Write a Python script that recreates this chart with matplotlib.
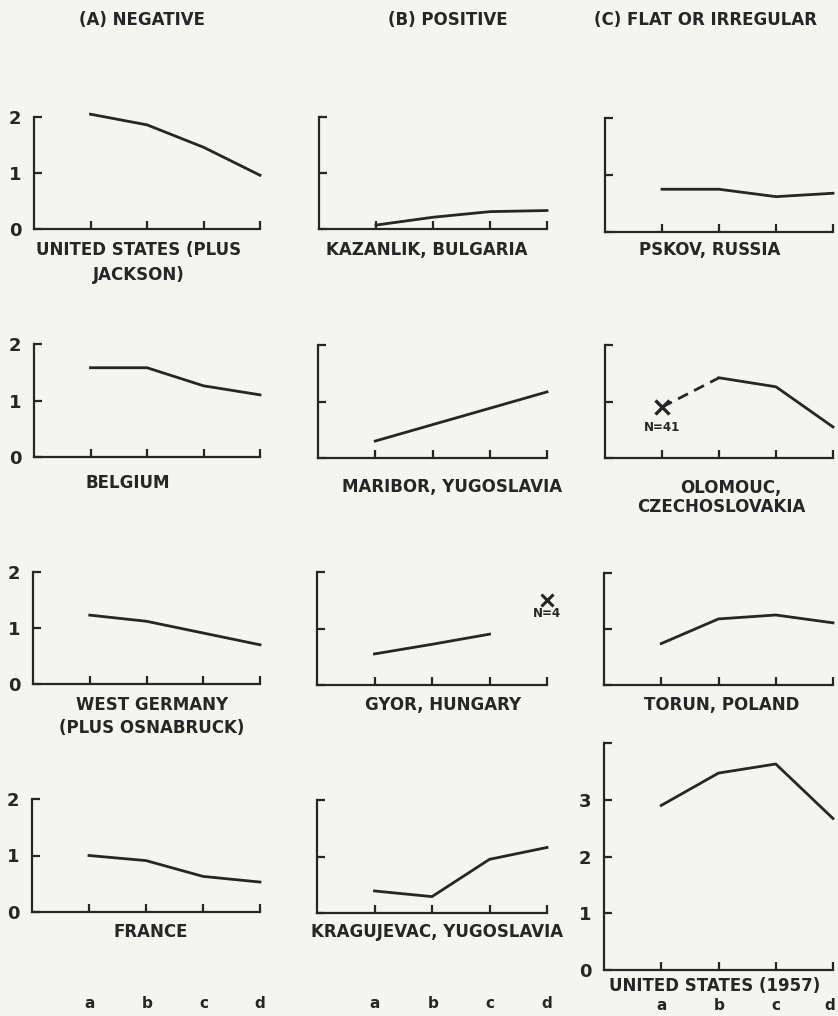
import numpy as np
import matplotlib.pyplot as plt

W, H = 838, 1016

# categories along the x axis
cats = ["a", "b", "c", "d"]
xpos = [1, 2, 3, 4]

# values
us_plus_jackson = [2.05, 1.86, 1.46, 0.96]
kazanlik = [0.07, 0.21, 0.31, 0.33]
pskov = [0.75, 0.75, 0.62, 0.68]
belgium = [1.58, 1.58, 1.26, 1.10]
maribor = [0.30, 0.59, 0.88, 1.17]
olomouc = [0.90, 1.42, 1.26, 0.55]
west_germany = [1.23, 1.12, 0.91, 0.70]
gyor = [0.55, 0.72, 0.90, 1.50]
torun = [0.74, 1.18, 1.25, 1.11]
france = [1.00, 0.91, 0.63, 0.53]
kragujevac = [0.39, 0.29, 0.95, 1.16]
us_1957 = [2.90, 3.47, 3.63, 2.67]

ink = "#262626"
plt.rcParams["font.family"] = ["DejaVu Sans"]
plt.rcParams["font.weight"] = "bold"

fig = plt.figure(figsize=(W / 100, H / 100), dpi=100)
fig.patch.set_facecolor("#f4f4f1")


def panel(x0, xd, y0, ytop, ymax, labels):
    # x0/xd: pixel of y-axis and of tick d; y0/ytop: pixel of 0 and of ymax
    ax = fig.add_axes([x0 / W, 1 - y0 / H, (xd - x0) / W, (y0 - ytop) / H])
    ax.set_facecolor("none")
    ax.set_xlim(0, 4)
    ax.set_ylim(0, ymax)
    for s in ["top", "right"]:
        ax.spines[s].set_visible(False)
    for s in ["left", "bottom"]:
        ax.spines[s].set_linewidth(1.6)
        ax.spines[s].set_color(ink)
    ax.set_xticks(xpos)
    ax.set_xticklabels([])
    ax.set_yticks(range(0, ymax + 1))
    if labels:
        ax.set_yticklabels([str(v) for v in range(0, ymax + 1)], fontsize=13,
                           fontweight="bold", color=ink)
    else:
        ax.set_yticklabels([])
    ax.tick_params(direction="in", length=6, width=1.6, color=ink, pad=9)
    return ax


def line(ax, xs, vals, **kw):
    ax.plot(xs, vals, color=ink, lw=2.0, clip_on=False, **kw)


def label(x, y, s, size=12):
    fig.text(x / W, 1 - y / H, s, ha="center", va="center", fontsize=size,
             fontweight="bold", color=ink)


# row 1
ax = panel(34, 260, 229, 117, 2, True)
line(ax, xpos, us_plus_jackson)
ax = panel(319, 547, 229, 117, 2, False)
line(ax, xpos, kazanlik)
ax = panel(605, 833, 232, 118, 2, False)
line(ax, xpos, pskov)

# row 2
ax = panel(34, 260, 457, 344, 2, True)
line(ax, xpos, belgium)
ax = panel(318, 547, 458, 345, 2, False)
line(ax, xpos, maribor)
ax = panel(605, 833, 458, 345, 2, False)
line(ax, xpos[1:], olomouc[1:])
line(ax, xpos[:2], olomouc[:2], ls=(0, (4, 2.5)))
ax.plot(xpos[0], olomouc[0], marker="x", ms=10, mew=2.4, color=ink)
ax.annotate("N=41", (xpos[0], olomouc[0]), xytext=(0, -17),
            textcoords="offset points", ha="center", fontsize=8.5,
            fontweight="bold", color=ink)

# row 3
ax = panel(33, 260, 684, 572, 2, True)
line(ax, xpos, west_germany)
ax = panel(317, 547, 685, 572, 2, False)
line(ax, xpos[:3], gyor[:3])
ax.plot(xpos[3], gyor[3], marker="x", ms=9, mew=2.2, color=ink, clip_on=False)
ax.annotate("N=4", (xpos[3], gyor[3]), xytext=(0, -12),
            textcoords="offset points", ha="center", fontsize=8.5,
            fontweight="bold", color=ink, annotation_clip=False)
ax = panel(604, 833, 685, 573, 2, False)
line(ax, xpos, torun)

# row 4
ax = panel(32, 260, 912, 799, 2, True)
line(ax, xpos, france)
ax = panel(317, 547, 913, 800, 2, False)
line(ax, xpos, kragujevac)
ax = panel(604, 833, 970, 743, 4, True)
ax.set_yticklabels(["0", "1", "2", "3", ""], fontsize=13, fontweight="bold",
                   color=ink)
line(ax, xpos, us_1957)

# column headings
label(142, 20, "(A) NEGATIVE")
label(448, 20, "(B) POSITIVE")
label(706, 20, "(C) FLAT OR IRREGULAR")

# panel captions
label(139, 250, "UNITED STATES (PLUS")
label(139, 275, "JACKSON)")
label(427, 250, "KAZANLIK, BULGARIA")
label(710, 250, "PSKOV, RUSSIA")
label(128, 483, "BELGIUM")
label(452, 487, "MARIBOR, YUGOSLAVIA")
label(731, 488, "OLOMOUC,")
label(721, 507, "CZECHOSLOVAKIA")
label(152, 705, "WEST GERMANY")
label(152, 728, "(PLUS OSNABRUCK)")
label(443, 705, "GYOR, HUNGARY")
label(722, 705, "TORUN, POLAND")
label(151, 932, "FRANCE")
label(437, 932, "KRAGUJEVAC, YUGOSLAVIA")
label(715, 986, "UNITED STATES (1957)")

# a b c d under each column
for col_ticks, yy in [((90, 147, 204, 260), 1004), ((375, 433, 490, 547), 1004),
                      ((662, 719, 776, 830), 1005)]:
    for c, xx in zip(cats, col_ticks):
        label(xx, yy, c, size=11)

fig.savefig("out.png", dpi=100, facecolor=fig.get_facecolor())
